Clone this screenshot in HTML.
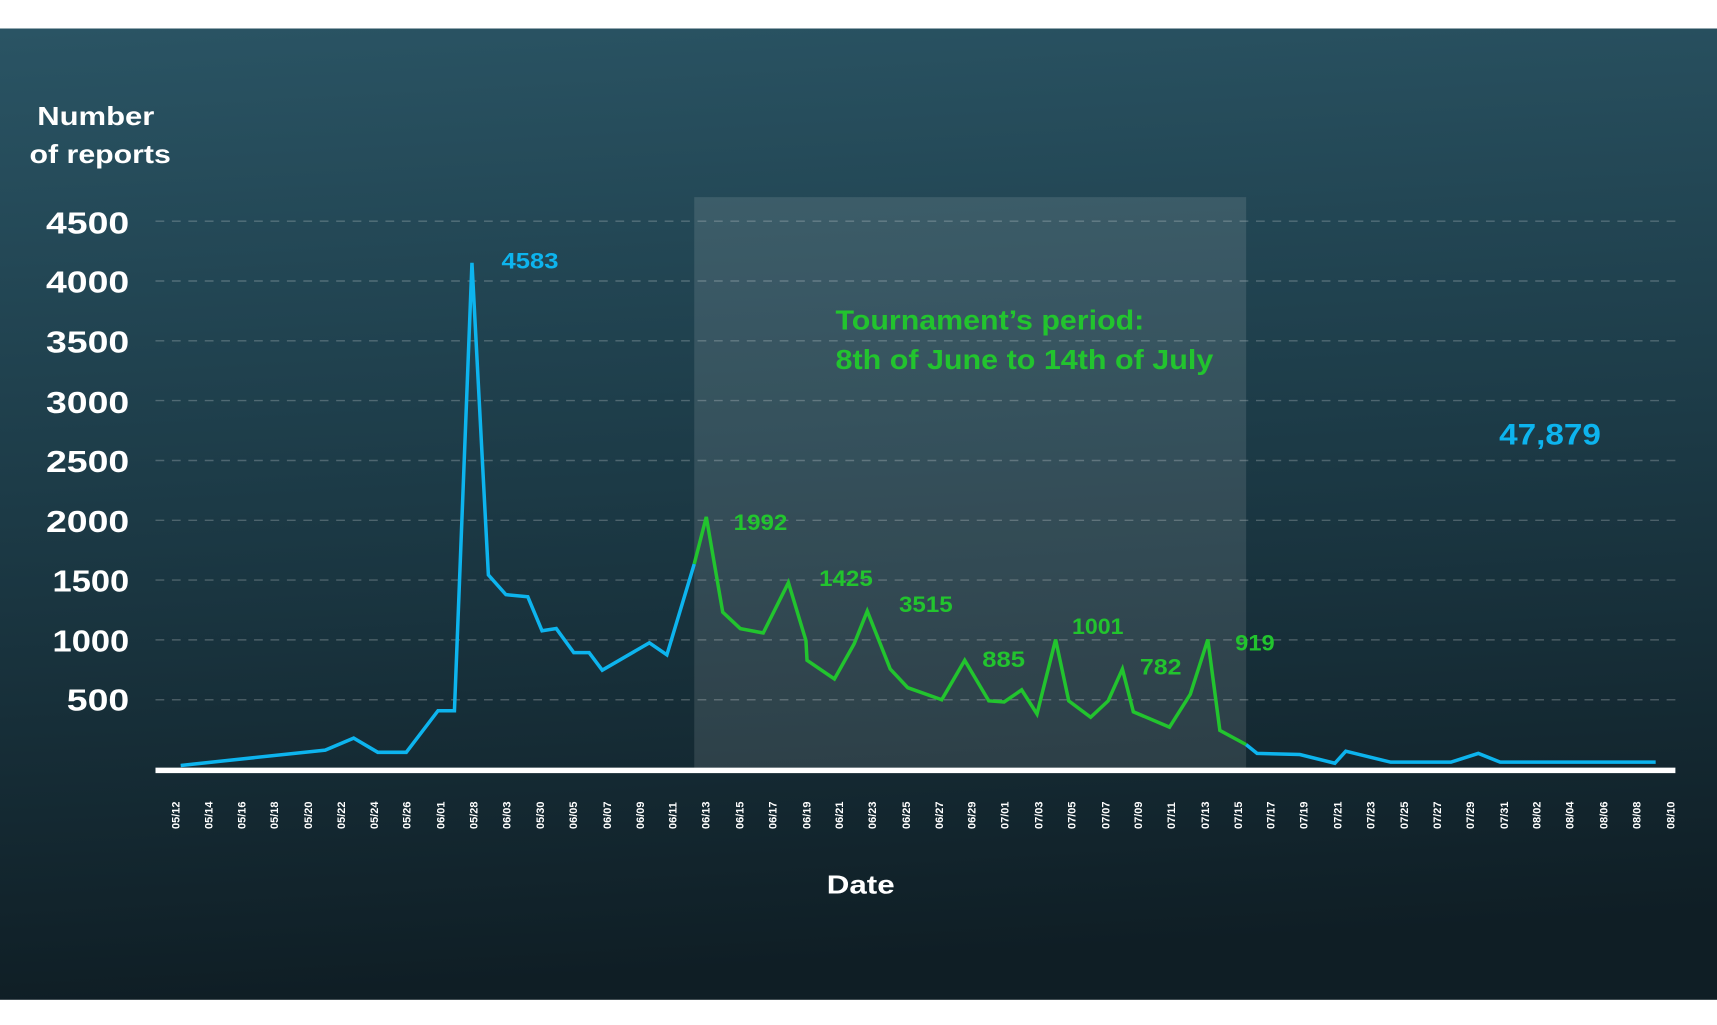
<!DOCTYPE html>
<html><head><meta charset="utf-8"><style>
html,body{margin:0;padding:0;background:#fff;}
svg{display:block;}
text{font-family:"Liberation Sans",sans-serif;font-weight:bold;}
</style></head><body>
<svg width="1717" height="1025" viewBox="0 0 1568 936" xmlns="http://www.w3.org/2000/svg">
<defs>
<linearGradient id="bg" x1="0" y1="0" x2="0.1" y2="1">
<stop offset="0" stop-color="#2a5464"/>
<stop offset="0.5" stop-color="#1c3a46"/>
<stop offset="1" stop-color="#0f1e25"/>
</linearGradient>
</defs>
<rect x="0" y="0" width="1568" height="936" fill="#fff"/>
<rect x="0" y="26" width="1568" height="887" fill="url(#bg)"/>
<rect x="634" y="180" width="504" height="521" fill="#ffffff" fill-opacity="0.11"/>
<g stroke="#ffffff" stroke-opacity="0.22" stroke-width="1.3" stroke-dasharray="8,7">
<line x1="142" x2="1533" y1="202" y2="202"/>
<line x1="142" x2="1533" y1="256.6" y2="256.6"/>
<line x1="142" x2="1533" y1="311.2" y2="311.2"/>
<line x1="142" x2="1533" y1="365.8" y2="365.8"/>
<line x1="142" x2="1533" y1="420.5" y2="420.5"/>
<line x1="142" x2="1533" y1="475.1" y2="475.1"/>
<line x1="142" x2="1533" y1="529.7" y2="529.7"/>
<line x1="142" x2="1533" y1="584.3" y2="584.3"/>
<line x1="142" x2="1533" y1="639" y2="639"/>
</g>
<rect x="142" y="701" width="1388" height="5" fill="#fff"/>
<g fill="#fff" font-size="28" lengthAdjust="spacingAndGlyphs">
<text x="42" y="213" textLength="76" lengthAdjust="spacingAndGlyphs">4500</text>
<text x="42" y="267" textLength="76" lengthAdjust="spacingAndGlyphs">4000</text>
<text x="42" y="322" textLength="76" lengthAdjust="spacingAndGlyphs">3500</text>
<text x="42" y="377" textLength="76" lengthAdjust="spacingAndGlyphs">3000</text>
<text x="42" y="431" textLength="76" lengthAdjust="spacingAndGlyphs">2500</text>
<text x="42" y="486" textLength="76" lengthAdjust="spacingAndGlyphs">2000</text>
<text x="48" y="540" textLength="70" lengthAdjust="spacingAndGlyphs">1500</text>
<text x="48" y="595" textLength="70" lengthAdjust="spacingAndGlyphs">1000</text>
<text x="61" y="649" textLength="57" lengthAdjust="spacingAndGlyphs">500</text>
</g>
<text x="34" y="114" fill="#fff" font-size="24" textLength="107" lengthAdjust="spacingAndGlyphs">Number</text>
<text x="27" y="149" fill="#fff" font-size="24" textLength="129" lengthAdjust="spacingAndGlyphs">of reports</text>
<text x="755" y="816" fill="#fff" font-size="24" textLength="62" lengthAdjust="spacingAndGlyphs">Date</text>
<polyline fill="none" stroke="#0db4ee" stroke-width="3.2" points="165,699 297,685 323,674 345,687 371,687 400,649 415,649 431,240 446,525 462,543 482,545 495,576 508,574 524,596 538,596 550,612 593,587 609,598 634,515"/>
<polyline fill="none" stroke="#22c42e" stroke-width="3.2" points="634,515 645,472 660,559 676,574 697,578 720,532 736,585 737,603 762,620 780,588 792,558 813,611 829,628 860,639 881,603 903,640 917,641 933,630 947,652 964,584 976,640 996,655 1012,640 1025,611 1035,650 1068,664 1087,634 1103,584 1114,667 1138,680"/>
<polyline fill="none" stroke="#0db4ee" stroke-width="3.2" points="1138,680 1148,688 1187,689 1219,697 1229,686 1270,696 1325,696 1350,688 1370,696 1512,696"/>
<text x="458" y="245" fill="#0db4ee" font-size="20" textLength="52" lengthAdjust="spacingAndGlyphs">4583</text>
<g fill="#22c42e" font-size="20">
<text x="670" y="484" textLength="49" lengthAdjust="spacingAndGlyphs">1992</text>
<text x="748" y="535" textLength="49" lengthAdjust="spacingAndGlyphs">1425</text>
<text x="821" y="559" textLength="49" lengthAdjust="spacingAndGlyphs">3515</text>
<text x="897" y="609" textLength="39" lengthAdjust="spacingAndGlyphs">885</text>
<text x="979" y="579" textLength="47" lengthAdjust="spacingAndGlyphs">1001</text>
<text x="1041" y="616" textLength="38" lengthAdjust="spacingAndGlyphs">782</text>
<text x="1128" y="594" textLength="36" lengthAdjust="spacingAndGlyphs">919</text>
</g>
<g fill="#22c42e" font-size="25">
<text x="763" y="301" textLength="282" lengthAdjust="spacingAndGlyphs">Tournament’s period:</text>
<text x="763" y="337" textLength="345" lengthAdjust="spacingAndGlyphs">8th of June to 14th of July</text>
</g>
<text x="1369" y="406" fill="#0db4ee" font-size="27" textLength="93" lengthAdjust="spacingAndGlyphs">47,879</text>
<g fill="#fff" font-size="10">
<text transform="translate(164,757) rotate(-90)">05/12</text>
<text transform="translate(194,757) rotate(-90)">05/14</text>
<text transform="translate(224,757) rotate(-90)">05/16</text>
<text transform="translate(254,757) rotate(-90)">05/18</text>
<text transform="translate(285,757) rotate(-90)">05/20</text>
<text transform="translate(315,757) rotate(-90)">05/22</text>
<text transform="translate(345,757) rotate(-90)">05/24</text>
<text transform="translate(375,757) rotate(-90)">05/26</text>
<text transform="translate(406,757) rotate(-90)">06/01</text>
<text transform="translate(436,757) rotate(-90)">05/28</text>
<text transform="translate(466,757) rotate(-90)">06/03</text>
<text transform="translate(497,757) rotate(-90)">05/30</text>
<text transform="translate(527,757) rotate(-90)">06/05</text>
<text transform="translate(558,757) rotate(-90)">06/07</text>
<text transform="translate(588,757) rotate(-90)">06/09</text>
<text transform="translate(618,757) rotate(-90)">06/11</text>
<text transform="translate(648,757) rotate(-90)">06/13</text>
<text transform="translate(679,757) rotate(-90)">06/15</text>
<text transform="translate(709,757) rotate(-90)">06/17</text>
<text transform="translate(740,757) rotate(-90)">06/19</text>
<text transform="translate(770,757) rotate(-90)">06/21</text>
<text transform="translate(800,757) rotate(-90)">06/23</text>
<text transform="translate(831,757) rotate(-90)">06/25</text>
<text transform="translate(861,757) rotate(-90)">06/27</text>
<text transform="translate(891,757) rotate(-90)">06/29</text>
<text transform="translate(921,757) rotate(-90)">07/01</text>
<text transform="translate(952,757) rotate(-90)">07/03</text>
<text transform="translate(982,757) rotate(-90)">07/05</text>
<text transform="translate(1013,757) rotate(-90)">07/07</text>
<text transform="translate(1043,757) rotate(-90)">07/09</text>
<text transform="translate(1073,757) rotate(-90)">07/11</text>
<text transform="translate(1104,757) rotate(-90)">07/13</text>
<text transform="translate(1134,757) rotate(-90)">07/15</text>
<text transform="translate(1164,757) rotate(-90)">07/17</text>
<text transform="translate(1194,757) rotate(-90)">07/19</text>
<text transform="translate(1225,757) rotate(-90)">07/21</text>
<text transform="translate(1255,757) rotate(-90)">07/23</text>
<text transform="translate(1286,757) rotate(-90)">07/25</text>
<text transform="translate(1316,757) rotate(-90)">07/27</text>
<text transform="translate(1346,757) rotate(-90)">07/29</text>
<text transform="translate(1377,757) rotate(-90)">07/31</text>
<text transform="translate(1407,757) rotate(-90)">08/02</text>
<text transform="translate(1437,757) rotate(-90)">08/04</text>
<text transform="translate(1468,757) rotate(-90)">08/06</text>
<text transform="translate(1498,757) rotate(-90)">08/08</text>
<text transform="translate(1529,757) rotate(-90)">08/10</text>
</g>
</svg>
</body></html>
